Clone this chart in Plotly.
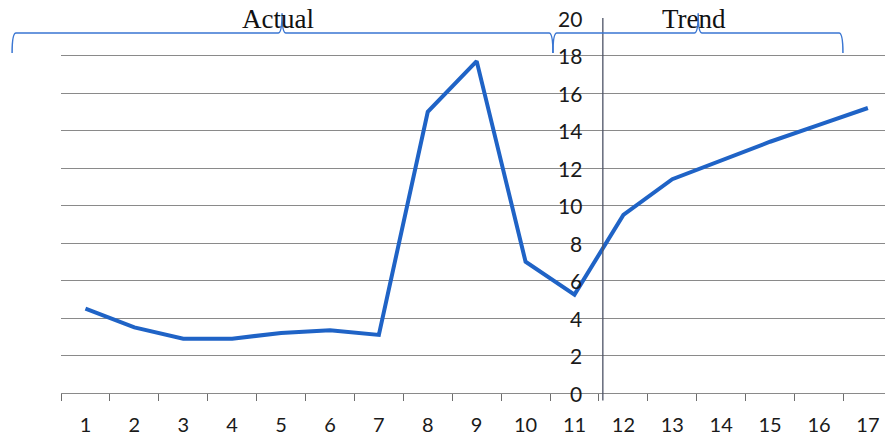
import plotly.graph_objects as go

# Period index and observed / projected values
periods = list(range(1, 18))
values = [4.5, 3.5, 2.9, 2.9, 3.2, 3.35, 3.1, 15.0, 17.7, 7.0, 5.25,
          9.5, 11.4, 12.4, 13.4, 14.3, 15.2]
y_ticks = list(range(0, 21, 2))

# Bracketed section labels: (text, start, end, tip) in period units
sections = [("Actual", -0.5, 10.56, 5.02),
            ("Trend", 10.56, 16.49, 13.53)]

X_RANGE = [0.5, 17.35]
Y_AXIS_AT = 11.58          # where the value axis crosses the period axis

GRID = "#8a8a8a"
LINE = "#1f63c6"
BRACE = "#3a76d2"
LABEL_FONT = dict(family="Lato, Carlito, sans-serif", size=20, color="#1a1a1a")


def xp(x):
    """period units -> paper fraction of the plot width"""
    return (x - X_RANGE[0]) / (X_RANGE[1] - X_RANGE[0])


fig = go.Figure()
fig.add_trace(go.Scatter(
    x=periods, y=values, mode="lines",
    line=dict(color=LINE, width=4),
    hoverinfo="x+y", showlegend=False,
))

shapes = []
# vertical value axis
shapes.append(dict(type="line", xref="x", yref="paper",
                   x0=Y_AXIS_AT, x1=Y_AXIS_AT, y0=1.0, y1=-0.02,
                   line=dict(color="#4d5366", width=1.3)))

# curly braces above the chart
y_bar, y_end, y_tip = 0.96, 0.9067, 1.013
for text, a, b, tip in sections:
    d = 0.08
    path = (f"M {xp(a)},{y_end} Q {xp(a)},{y_bar} {xp(a + d)},{y_bar} "
            f"L {xp(tip - d)},{y_bar} Q {xp(tip)},{y_bar} {xp(tip)},{y_tip} "
            f"Q {xp(tip)},{y_bar} {xp(tip + d)},{y_bar} "
            f"L {xp(b - d)},{y_bar} Q {xp(b)},{y_bar} {xp(b)},{y_end}")
    shapes.append(dict(type="path", xref="paper", yref="paper", path=path,
                       line=dict(color=BRACE, width=1.5)))

annotations = []
for text, a, b, tip in sections:
    annotations.append(dict(
        x=xp(tip - 0.08), y=0.998, xref="paper", yref="paper",
        text=text, showarrow=False, xanchor="center", yanchor="middle",
        font=dict(family="Liberation Serif, Times New Roman, serif",
                  size=27, color="#111111"),
    ))

# value labels sit just left of the crossing axis
for v in y_ticks:
    annotations.append(dict(
        x=Y_AXIS_AT, y=v, xref="x", yref="y", text=str(v),
        showarrow=False, xanchor="right", yanchor="middle",
        xshift=-19, font=dict(LABEL_FONT, size=21),
    ))

fig.update_layout(
    width=885, height=438,
    margin=dict(l=61, r=0, t=18, b=45),
    paper_bgcolor="white", plot_bgcolor="white",
    shapes=shapes, annotations=annotations,
    xaxis=dict(
        range=X_RANGE, tickmode="array", tickvals=periods,
        ticktext=[str(p) for p in periods], ticks="",
        showgrid=False, zeroline=False, automargin=False,
        showline=True, linecolor=GRID, linewidth=1,
        tickfont=LABEL_FONT, ticklabelstandoff=14,
        minor=dict(tickmode="linear", tick0=0.5, dtick=1, ticks="outside",
                   ticklen=7, tickcolor="#6e6e6e", tickwidth=1.2,
                   showgrid=False),
    ),
    yaxis=dict(
        range=[0, 20], tickmode="array", tickvals=y_ticks,
        showticklabels=False, showgrid=True, gridcolor=GRID, gridwidth=1,
        zeroline=False, showline=False, automargin=False,
    ),
)

fig.write_html("out.html")
